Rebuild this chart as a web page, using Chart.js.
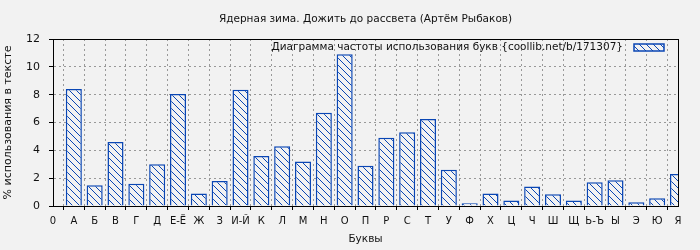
<!DOCTYPE html>
<html>
<head>
<meta charset="utf-8">
<script src="https://cdn.jsdelivr.net/npm/chart.js@4.4.1/dist/chart.umd.min.js"></script>
<style>
  html, body { margin: 0; padding: 0; background: #f2f2f2; }
  #chart { display: block; }
</style>
</head>
<body>
<canvas id="chart" width="700" height="250"></canvas>
<script>
// ═══ DATA ═══
const chartTitle = 'Ядерная зима. Дожить до рассвета (Артём Рыбаков)';
const seriesLabel = 'Диаграмма частоты использования букв {coollib.net/b/171307}';
const letters = ['0','А','Б','В','Г','Д','Е-Ё','Ж','З','И-Й','К','Л','М','Н','О','П','Р','С','Т','У','Ф','Х','Ц','Ч','Ш','Щ','Ь-Ъ','Ы','Э','Ю','Я'];
const percents = [0, 8.4, 1.5, 4.6, 1.6, 3.0, 8.05, 0.9, 1.8, 8.35, 3.6, 4.3, 3.2, 6.7, 10.9, 2.9, 4.9, 5.3, 6.25, 2.6, 0.2, 0.9, 0.4, 1.4, 0.85, 0.4, 1.7, 1.85, 0.27, 0.55, 2.3];
const yTicks = [0, 2, 4, 6, 8, 10, 12];

const FONT = '"DejaVu Sans", sans-serif';
const BLUE = '#0a46b4';
const BG = '#f2f2f2';

// ═══ HATCH PATTERN ═══
function makeHatch() {
  const c = document.createElement('canvas');
  c.width = 7; c.height = 7;
  const g = c.getContext('2d');
  g.fillStyle = BG;
  g.fillRect(0, 0, 7, 7);
  g.fillStyle = BLUE;
  for (let i = 0; i < 7; i++) g.fillRect(i, i, 1, 1);
  return g.createPattern(c, 'repeat');
}
const hatch = makeHatch();

// title, frame and legend drawn on top
const decor = {
  id: 'decor',
  afterDraw(chart) {
    const ctx = chart.ctx;
    const a = chart.chartArea;
    ctx.save();
    ctx.strokeStyle = '#000';
    ctx.lineWidth = 1;
    ctx.strokeRect(Math.round(a.left) + 0.5, Math.round(a.top) + 0.5, Math.round(a.right - a.left), Math.round(a.bottom - a.top));

    ctx.fillStyle = '#111';
    ctx.font = '10.5px ' + FONT;
    ctx.textAlign = 'center';
    ctx.textBaseline = 'middle';
    ctx.fillText(chartTitle, (a.left + a.right) / 2, 19);

    ctx.textAlign = 'right';
    ctx.fillText(seriesLabel, 623, 47);
    ctx.fillStyle = hatch;
    ctx.fillRect(634, 44, 30, 7);
    ctx.strokeStyle = BLUE;
    ctx.lineWidth = 1.5;
    ctx.strokeRect(634, 44, 30, 7);
    ctx.restore();
  }
};

new Chart(document.getElementById('chart'), {
  type: 'bar',
  data: {
    labels: letters,
    datasets: [{
      label: seriesLabel,
      data: percents,
      backgroundColor: hatch,
      borderColor: BLUE,
      borderWidth: 1.5,
      barPercentage: 0.77,
      categoryPercentage: 1,
      clip: 0
    }]
  },
  options: {
    responsive: false,
    devicePixelRatio: 1,
    animation: false,
    layout: { padding: { top: 39, right: 22, left: 0, bottom: 0 } },
    plugins: { legend: { display: false }, tooltip: { enabled: false }, title: { display: false } },
    scales: {
      x: {
        offset: false,
        afterFit: s => { s.height = 44; },
        grid: { color: '#999', tickColor: '#000', tickLength: 4, tickBorderDash: [] },
        border: { color: '#000', width: 1, dash: [2, 3] },
        ticks: { color: '#111', font: { family: FONT, size: 10 }, maxRotation: 0, autoSkip: false, padding: 5 },
        title: { display: true, text: 'Буквы', color: '#111', font: { family: FONT, size: 10.5 }, padding: { top: 0, bottom: 4 } }
      },
      y: {
        min: 0, max: 12,
        afterFit: s => { s.width = 53; },
        afterBuildTicks: s => { s.ticks = yTicks.map(v => ({ value: v })); },
        grid: { color: '#999', tickColor: '#000', tickLength: 4, tickBorderDash: [] },
        border: { color: '#000', width: 1, dash: [2, 3] },
        ticks: { color: '#111', font: { family: FONT, size: 11 }, padding: 9 },
        title: { display: true, text: '% использования в тексте', color: '#111', font: { family: FONT, size: 11 }, padding: { top: 2, bottom: 0 } }
      }
    }
  },
  plugins: [decor]
});
</script>
</body>
</html>
